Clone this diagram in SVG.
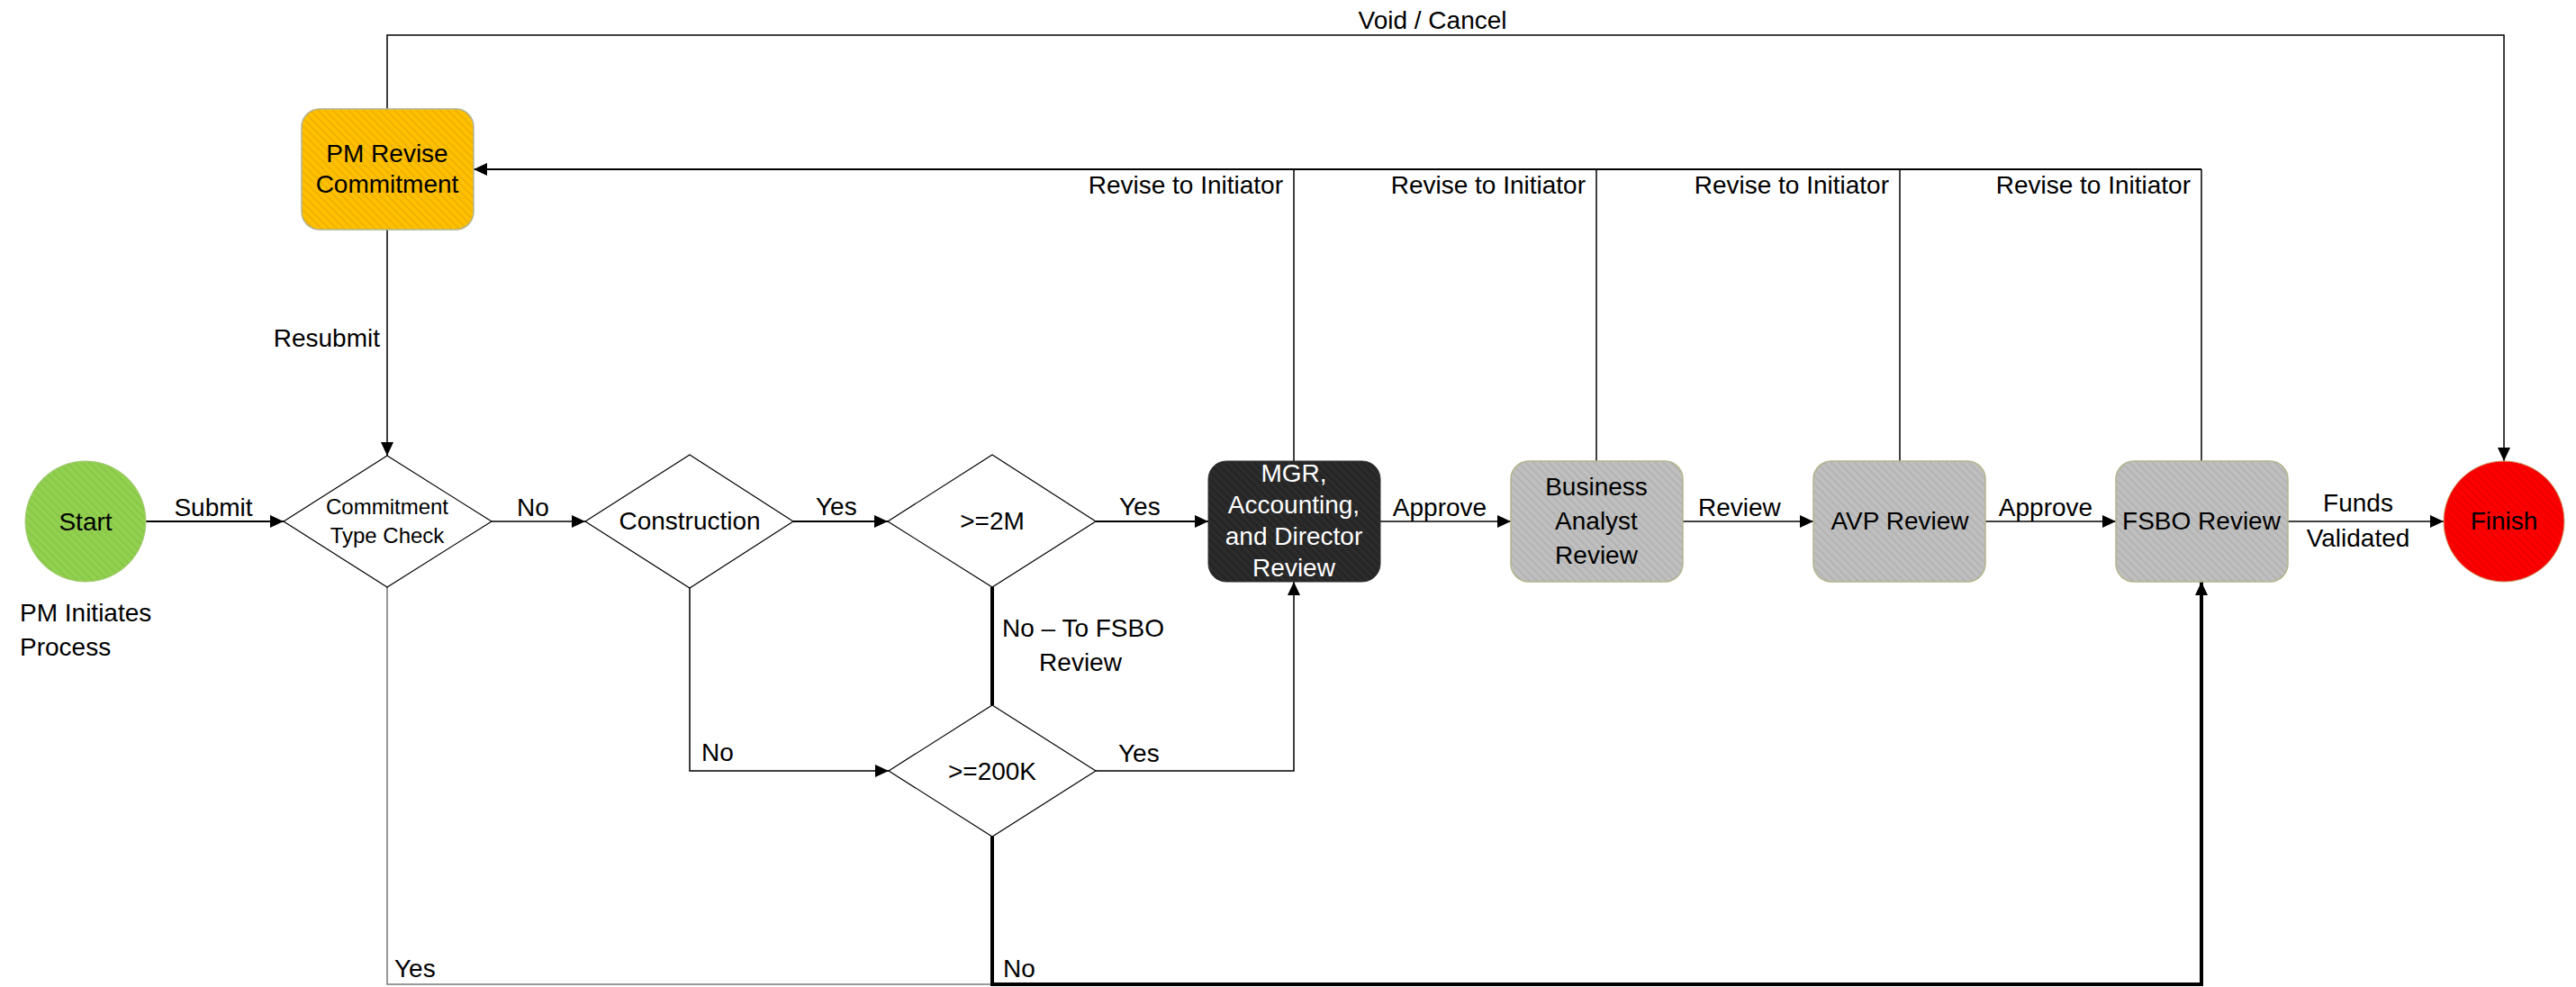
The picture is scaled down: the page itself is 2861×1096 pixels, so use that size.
<svg xmlns="http://www.w3.org/2000/svg" width="2861" height="1096" viewBox="0 0 2861 1096">
<style>
text{font-family:"Liberation Sans",Arial,sans-serif;font-size:28px;fill:#000}
.c{text-anchor:middle}
.e{text-anchor:end}
.w{fill:#fff}
.sm{font-size:24px}
.ln{fill:none;stroke:#000;stroke-width:1.5}
.med{fill:none;stroke:#000;stroke-width:2.2}
.thk{fill:none;stroke:#000;stroke-width:4}
.gl{fill:none;stroke:#777;stroke-width:1.5}
.dia{fill:#fff;stroke:#000;stroke-width:1.2}
.box{stroke:#B4B48E;stroke-width:1.5}
</style>
<defs>
<pattern id="pY" width="6" height="6" patternUnits="userSpaceOnUse" patternTransform="rotate(-45)"><rect width="6" height="6" fill="#FFC000"/><rect width="2" height="6" fill="#F0B200"/></pattern>
<pattern id="pG" width="6" height="6" patternUnits="userSpaceOnUse" patternTransform="rotate(-45)"><rect width="6" height="6" fill="#BFBFBF"/><rect width="2" height="6" fill="#B3B3B3"/></pattern>
<pattern id="pK" width="6" height="6" patternUnits="userSpaceOnUse" patternTransform="rotate(-45)"><rect width="6" height="6" fill="#262626"/><rect width="2" height="6" fill="#2E2E2E"/></pattern>
<pattern id="pN" width="6" height="6" patternUnits="userSpaceOnUse" patternTransform="rotate(-45)"><rect width="6" height="6" fill="#92D050"/><rect width="2" height="6" fill="#89C748"/></pattern>
<pattern id="pR" width="6" height="6" patternUnits="userSpaceOnUse" patternTransform="rotate(-45)"><rect width="6" height="6" fill="#FF0000"/><rect width="2" height="6" fill="#EE0000"/></pattern>
<marker id="ar" markerUnits="userSpaceOnUse" markerWidth="16" markerHeight="14" refX="15" refY="7" orient="auto"><path d="M0,0 L15,7 L0,14 Z" fill="#000"/></marker>
</defs>

<g id="connectors">
<line class="med" x1="162" y1="579" x2="315" y2="579" marker-end="url(#ar)"/>
<line class="ln" x1="546" y1="579" x2="650" y2="579" marker-end="url(#ar)"/>
<line class="med" x1="881" y1="579" x2="986" y2="579" marker-end="url(#ar)"/>
<line class="med" x1="1217" y1="579" x2="1342" y2="579" marker-end="url(#ar)"/>
<line class="ln" x1="1533" y1="579" x2="1678" y2="579" marker-end="url(#ar)"/>
<line class="ln" x1="1869" y1="579" x2="2014" y2="579" marker-end="url(#ar)"/>
<line class="ln" x1="2205" y1="579" x2="2350" y2="579" marker-end="url(#ar)"/>
<line class="ln" x1="2541" y1="579" x2="2714" y2="579" marker-end="url(#ar)"/>
<line class="thk" x1="1102" y1="652" x2="1102" y2="783"/>
<polyline class="ln" points="766,653 766,856 987,856" marker-end="url(#ar)"/>
<polyline class="ln" points="1217,856 1437,856 1437,646" marker-end="url(#ar)"/>
<polyline class="gl" points="430,652 430,1093 1102,1093"/>
<polyline class="thk" points="1102,929 1102,1093 2445,1093 2445,646" marker-end="url(#ar)"/>
<line class="ln" x1="1437" y1="512" x2="1437" y2="188"/>
<line class="ln" x1="1773" y1="512" x2="1773" y2="188"/>
<line class="ln" x1="2110" y1="512" x2="2110" y2="188"/>
<line class="ln" x1="2445" y1="512" x2="2445" y2="188"/>
<line class="med" x1="2445" y1="188" x2="526" y2="188" marker-end="url(#ar)"/>
<line class="ln" x1="430" y1="255" x2="430" y2="506" marker-end="url(#ar)"/>
<polyline class="ln" points="430,121 430,39 2781,39 2781,512" marker-end="url(#ar)"/>
<text x="1591" y="32" class="c">Void / Cancel</text>
<text x="1425" y="215" class="e">Revise to Initiator</text>
<text x="1761" y="215" class="e">Revise to Initiator</text>
<text x="2098" y="215" class="e">Revise to Initiator</text>
<text x="2433" y="215" class="e">Revise to Initiator</text>
<text x="422" y="385" class="e">Resubmit</text>
<text x="237" y="573" class="c">Submit</text>
<text x="574" y="573">No</text>
<text x="906" y="572">Yes</text>
<text x="1243" y="572">Yes</text>
<text x="1599" y="573" class="c">Approve</text>
<text x="1886" y="573">Review</text>
<text x="2272" y="573" class="c">Approve</text>
<text x="2619" y="568" class="c">Funds</text>
<text x="2619" y="607" class="c">Validated</text>
<text x="1113" y="707">No – To FSBO</text>
<text x="1200" y="745" class="c">Review</text>
<text x="779" y="845">No</text>
<text x="1242" y="846">Yes</text>
<text x="438" y="1085">Yes</text>
<text x="1114" y="1085">No</text>
</g>

<g id="start">
<circle cx="95" cy="579" r="67" fill="url(#pN)" stroke="#A6C97A" stroke-width="1"/>
<text x="95" y="589" class="c">Start</text>
<text x="22" y="690">PM Initiates</text>
<text x="22" y="728">Process</text>
</g>
<g id="pm-revise">
<rect x="335" y="121" width="191" height="134" rx="20" fill="url(#pY)" class="box"/>
<text x="430" y="180" class="c">PM Revise</text>
<text x="430" y="214" class="c">Commitment</text>
</g>
<g id="commitment-check">
<polygon class="dia" points="430,506 546,579 430,652 315,579"/>
<text x="430" y="571" class="c sm">Commitment</text>
<text x="430" y="603" class="c sm">Type Check</text>
</g>
<g id="construction">
<polygon class="dia" points="766,505 881,579 766,653 650,579"/>
<text x="766" y="588" class="c">Construction</text>
</g>
<g id="ge2m">
<polygon class="dia" points="1102,505 1217,579 1102,652 986,579"/>
<text x="1102" y="588" class="c">&gt;=2M</text>
</g>
<g id="ge200k">
<polygon class="dia" points="1102,783 1217,856 1102,929 987,856"/>
<text x="1102" y="866" class="c">&gt;=200K</text>
</g>
<g id="mgr-review">
<rect x="1342" y="512" width="191" height="134" rx="20" fill="url(#pK)" stroke="#333" stroke-width="1"/>
<text x="1437" y="535" class="c w">MGR,</text>
<text x="1437" y="570" class="c w">Accounting,</text>
<text x="1437" y="605" class="c w">and Director</text>
<text x="1437" y="640" class="c w">Review</text>
</g>
<g id="ba-review">
<rect x="1678" y="512" width="191" height="134" rx="20" fill="url(#pG)" class="box"/>
<text x="1773" y="550" class="c">Business</text>
<text x="1773" y="588" class="c">Analyst</text>
<text x="1773" y="626" class="c">Review</text>
</g>
<g id="avp-review">
<rect x="2014" y="512" width="191" height="134" rx="20" fill="url(#pG)" class="box"/>
<text x="2110" y="588" class="c">AVP Review</text>
</g>
<g id="fsbo-review">
<rect x="2350" y="512" width="191" height="134" rx="20" fill="url(#pG)" class="box"/>
<text x="2445" y="588" class="c">FSBO Review</text>
</g>
<g id="finish">
<circle cx="2781" cy="579" r="67" fill="url(#pR)" stroke="#C9A06A" stroke-width="1"/>
<text x="2781" y="588" class="c">Finish</text>
</g>
</svg>
